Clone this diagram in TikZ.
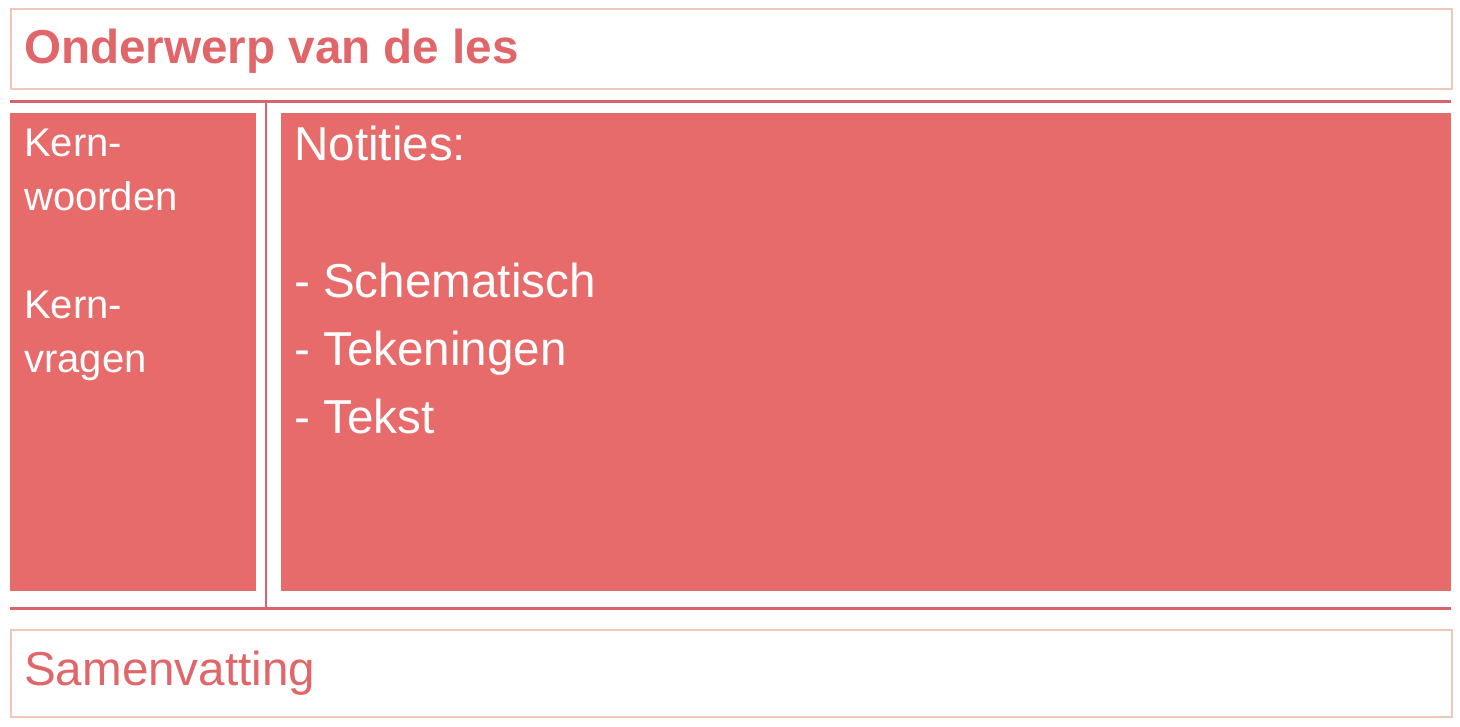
\documentclass[tikz,border=0pt]{standalone}
\usepackage{fontspec}
\setmainfont{Liberation Sans}
\usepackage{xcolor}
\usepackage{tikz}
\usetikzlibrary{positioning}
\definecolor{lesrood}{HTML}{E76B6A}
\definecolor{lijnrood}{HTML}{D8646A}
\definecolor{kaderrand}{HTML}{EFC8BA}
\definecolor{titelrood}{HTML}{E0666A}
\tikzset{
  kader/.style = {draw=kaderrand, line width=1.5pt, fill=white, inner sep=0pt, anchor=north west},
  vlak/.style = {fill=lesrood, inner sep=0pt, anchor=north west},
  scheiding/.style = {draw=lijnrood, line width=3pt},
  groot/.style = {font=\fontsize{47.6}{68}\selectfont, inner sep=0pt, anchor=base west},
  klein/.style = {font=\fontsize{40}{54}\selectfont, inner sep=0pt, anchor=base west}
}
\begin{document}
\begin{tikzpicture}[x=1pt, y=-1pt]
\useasboundingbox (0,0) rectangle (1460,726);

% -- kaders boven en onder
\draw (10,8) node[kader, minimum width=1441pt, minimum height=80pt] (titel) {};
\draw (10,629) node[kader, minimum width=1441pt, minimum height=87pt] (samen) {};

% -- rode vlakken
\draw (10,113) node[vlak, minimum width=246pt, minimum height=478pt] (kern) {};
\draw (281,113) node[vlak, minimum width=1170pt, minimum height=478pt] (notities) {};

% -- scheidingslijnen
\coordinate (LB) at (10,101);
\coordinate (RB) at (1451,101);
\coordinate (LO) at (10,608);
\coordinate (RO) at (1451,608);
\coordinate (MB) at (266,101);
\coordinate (MO) at (266,608);
\draw[scheiding] (LB) -- (RB);
\draw[scheiding] (LO) -- (RO);
\draw[scheiding, line width=2.5pt] (MB) -- (MO);

% -- teksten
\node[groot, text=titelrood, font=\fontsize{47.6}{68}\selectfont\bfseries] (titeltekst) at (24,63) {Onderwerp van de les};
\node[groot, text=titelrood] (samentekst) at (24,685) {Samenvatting};

% -- kernwoorden / kernvragen
\foreach \y/\t [count=\i] in {156/Kern-, 210/woorden, 318/Kern-, 372/vragen}
  \node[klein, text=white] (kern\i) at (24,\y) {\t};

% -- notities
\foreach \y/\t [count=\i] in {160/Notities:, 297/- Schematisch, 365/- Tekeningen, 433/- Tekst}
  \node[groot, text=white] (noti\i) at (294,\y) {\t};

\end{tikzpicture}
\end{document}
